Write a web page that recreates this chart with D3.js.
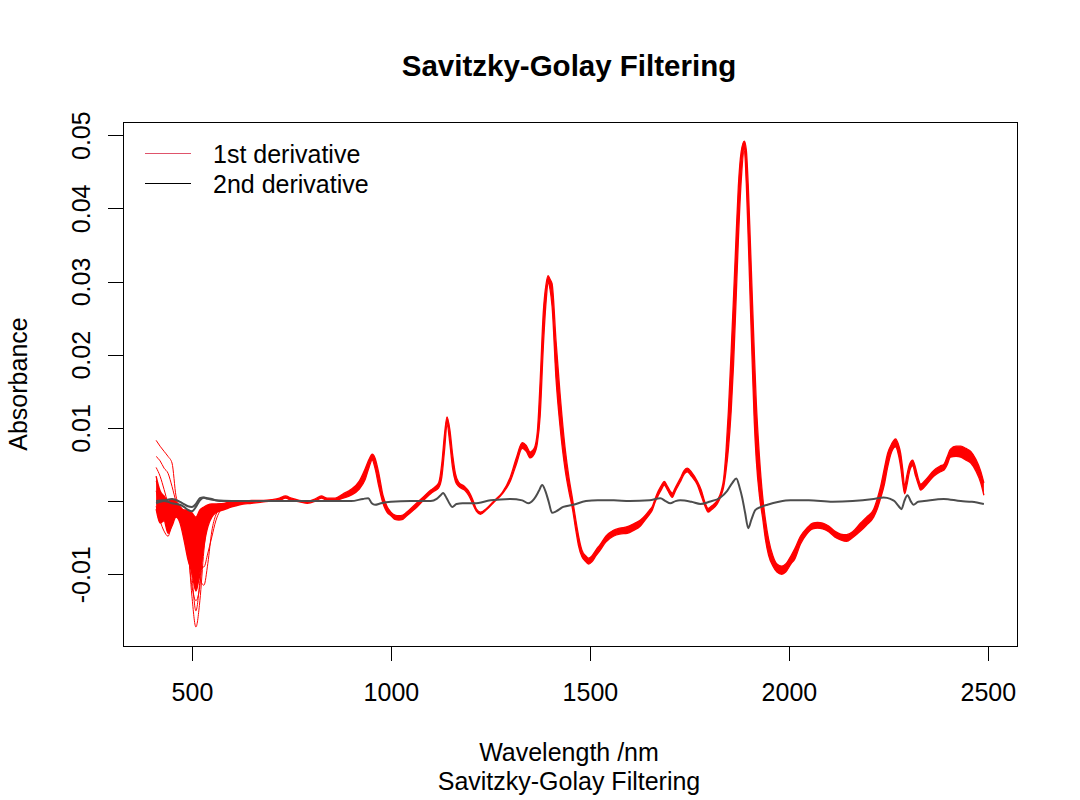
<!DOCTYPE html>
<html>
<head>
<meta charset="utf-8">
<script src="https://cdn.jsdelivr.net/npm/d3@7"></script>
<style>
  body { margin: 0; background: #fff; }
  text { font-family: "Liberation Sans", Arial, sans-serif; }
</style>
</head>
<body>
<div id="chart"></div>
<script>
// wavelengths for the main red band (nm)
const wl = [
  410,420,430,440,450,460,470,480,490,500, 510,520,530,540,550,560,580,600,620,650,
  680,700,720,735,750,770,790,810,825,840,
  860,880,900,920,935,945,953,960,970,980,
  990,1000,1010,1020,1030,1040,1060,1080,1100,1110,
  1120,1128,1135,1141,1148,1155,1162,1170,1185,1195,
  1205,1215,1225,1240,1260,1280,1300,1315,1330,1340,
  1350,1360,1368,1375,1383,1390,1395,1400,1405,1415,
  1425,1438,1448,1456,1465,1471,1480,1490,1497,1505,
  1515,1526,1540,1559,1575,1594,1610,1627,1640,1650,
  1657,1665,1672,1680,1687,1695,1707,1715,1727,1737,
  1745,1755,1770,1780,1790,1797,1805,1820,1830,1836,
  1842,1848,1855,1861,1867,1873,1880,1888,1893,1898,
  1903,1908,1913,1918,1926,1934,1941,1949,1960,1970,
  1982,1992,2005,2015,2029,2045,2060,2072,2085,2100,
  2115,2130,2145,2160,2180,2195,2213,2222,2230,2240,
  2248,2258,2268,2275,2281,2286,2291,2296,2303,2311,
  2318,2325,2331,2345,2364,2380,2389,2398,2406,2420,
  2432,2445,2457,2470,2482,2490
];

// upper edge of the red bundle of spectra
const redUpper = [
  0.0034,0.0014,0.0007,0,0.0003,-0.0001,-0.0008,-0.0012,-0.0012,-0.0016, -0.0022,-0.0012,-0.0008,-0.0005,-0.0004,-0.0004,-0.0003,-0.0001,-0.0001,0.0001,
  0.0001,0.0002,0.0004,0.0007,0.0004,0.0001,0,0.0003,0.0007,0.0004,
  0.0004,0.0010,0.0016,0.0027,0.0044,0.0057,0.0064,0.0059,0.0037,0.0008,
  -0.0007,-0.0015,-0.0019,-0.0020,-0.0019,-0.0015,-0.0005,0.0005,0.0015,0.0019,
  0.0025,0.0052,0.0093,0.0115,0.0098,0.0064,0.0038,0.0026,0.0020,0.0014,
  0.0003,-0.0011,-0.0015,-0.0010,0.0001,0.0012,0.0033,0.0059,0.0080,0.0076,
  0.0067,0.0072,0.0095,0.0164,0.0259,0.0297,0.0308,0.0303,0.0297,0.0218,
  0.0147,0.0071,0.0030,0.0004,-0.0027,-0.0046,-0.0067,-0.0075,-0.0078,-0.0075,
  -0.0067,-0.0059,-0.0048,-0.0040,-0.0037,-0.0035,-0.0031,-0.0026,-0.0019,-0.0012,
  -0.0007,0.0005,0.0014,0.0022,0.0027,0.0020,0.0011,0.0019,0.0031,0.0042,
  0.0045,0.0040,0.0027,0.0015,-0.0003,-0.0010,-0.0007,0.0001,0.0014,0.0030,
  0.0068,0.0123,0.0205,0.0280,0.0357,0.0430,0.0477,0.0492,0.0480,0.0430,
  0.0357,0.0280,0.0205,0.0136,0.0061,0.0007,-0.0025,-0.0052,-0.0075,-0.0086,
  -0.0089,-0.0086,-0.0075,-0.0065,-0.0048,-0.0037,-0.0030,-0.0029,-0.0030,-0.0034,
  -0.0041,-0.0045,-0.0046,-0.0042,-0.0030,-0.0022,-0.0011,0.0003,0.0019,0.0045,
  0.0065,0.0078,0.0085,0.0078,0.0065,0.0044,0.0020,0.0034,0.0050,0.0056,
  0.0046,0.0031,0.0023,0.0030,0.0042,0.0048,0.0050,0.0061,0.0071,0.0075,
  0.0075,0.0072,0.0068,0.0057,0.0041,0.0025
];

// lower edge of the red bundle
const redLower = [
  -0.0011,-0.0030,-0.0027,-0.0044,-0.0034,-0.0022,-0.0030,-0.0053,-0.0080,-0.0098, -0.0123,-0.0098,-0.0061,-0.0035,-0.0022,-0.0016,-0.0012,-0.0008,-0.0005,-0.0003,
  -0.0001,0,0.0001,0.0004,0.0001,-0.0001,-0.0003,0,0.0004,0.0001,
  0.0001,0.0004,0.0008,0.0016,0.0029,0.0046,0.0056,0.0045,0.0019,-0.0003,
  -0.0015,-0.0020,-0.0025,-0.0026,-0.0025,-0.0020,-0.0011,0,0.0010,0.0014,
  0.0018,0.0033,0.0071,0.0105,0.0079,0.0045,0.0027,0.0020,0.0015,0.0008,
  -0.0003,-0.0014,-0.0018,-0.0012,-0.0001,0.0010,0.0027,0.0050,0.0072,0.0068,
  0.0059,0.0064,0.0079,0.0116,0.0211,0.0273,0.0299,0.0289,0.0266,0.0166,
  0.0102,0.0042,0.0011,-0.0010,-0.0041,-0.0060,-0.0076,-0.0083,-0.0086,-0.0083,
  -0.0075,-0.0067,-0.0056,-0.0048,-0.0045,-0.0044,-0.0040,-0.0034,-0.0025,-0.0018,
  -0.0012,0,0.0008,0.0016,0.0022,0.0015,0.0005,0.0014,0.0026,0.0037,
  0.0040,0.0034,0.0022,0.0007,-0.0008,-0.0015,-0.0012,-0.0004,0.0008,0.0019,
  0.0041,0.0071,0.0123,0.0187,0.0270,0.0356,0.0436,0.0480,0.0434,0.0356,
  0.0270,0.0187,0.0109,0.0057,0.0007,-0.0023,-0.0052,-0.0074,-0.0089,-0.0097,
  -0.0100,-0.0097,-0.0086,-0.0079,-0.0059,-0.0045,-0.0038,-0.0037,-0.0038,-0.0042,
  -0.0049,-0.0053,-0.0055,-0.0050,-0.0041,-0.0033,-0.0022,-0.0011,0.0003,0.0023,
  0.0046,0.0067,0.0074,0.0064,0.0046,0.0025,0.0010,0.0020,0.0040,0.0048,
  0.0035,0.0023,0.0015,0.0022,0.0034,0.0040,0.0042,0.0050,0.0060,0.0061,
  0.0060,0.0056,0.0052,0.0041,0.0025,0.0008
];

// the scattered single spectra below 600 nm
const earlyWl = [410,420,430,440,450,460,470,480,490,500,510,520,530,540,550,560,570,580,600];
const redEarly1 = [0.0083,0.0075,0.0068,0.0061,0.0052,0.0007,-0.0007,-0.0014,-0.0034,-0.0068,-0.0095,-0.0061,-0.0027,-0.0011,-0.0007,-0.0005,-0.0004,-0.0004,-0.0003];
const redEarly2 = [0.0061,0.0055,0.0045,0.0038,0.0020,0,-0.0008,-0.0019,-0.0048,-0.0102,-0.0150,-0.0109,-0.0048,-0.0016,-0.0008,-0.0005,-0.0004,-0.0004,-0.0003];
const redEarly3 = [0.0046,0.0034,0.0016,-0.0003,-0.0014,-0.0011,-0.0011,-0.0025,-0.0061,-0.0130,-0.0172,-0.0136,-0.0068,-0.0025,-0.0011,-0.0007,-0.0005,-0.0004,-0.0003];
const redEarly4 = [0.0027,0.0011,-0.0011,-0.0027,-0.0025,-0.0014,-0.0011,-0.0016,-0.0034,-0.0061,-0.0085,-0.0106,-0.0115,-0.0085,-0.0041,-0.0019,-0.0011,-0.0007,-0.0004];
const redEarly5 = [0.0014,-0.0007,-0.0020,-0.0034,-0.0027,-0.0016,-0.0014,-0.0020,-0.0041,-0.0057,-0.0075,-0.0090,-0.0090,-0.0071,-0.0049,-0.0027,-0.0014,-0.0008,-0.0004];
const redEarly6 = [-0.0007,-0.0027,-0.0041,-0.0048,-0.0030,-0.0016,-0.0011,-0.0027,-0.0068,-0.0116,-0.0136,-0.0116,-0.0055,-0.0020,-0.0011,-0.0007,-0.0005,-0.0004,-0.0003];
const grayEarly = [-0.0003,-0.0001,0,-0.0001,-0.0003,-0.0004,-0.0005,-0.0008,-0.0012,-0.0014,-0.0008,0.0001,0.0005,0.0004,0.0003,0.0001,0,0,0];

// grey spectra
const grayWl = [
  410,430,450,470,480,490,500,510,520,527,540,560,600,700,800,900,930,943,952,960,
  975,1000,1050,1100,1115,1125,1131,1140,1148,1154,1165,1180,1210,1250,1300,1330,1345,1360,1372,1380,
  1388,1396,1405,1415,1433,1458,1490,1520,1560,1600,1650,1677,1690,1702,1715,1727,1755,1778,1800,1828,
  1845,1858,1868,1876,1883,1890,1898,1906,1916,1930,1946,1975,2004,2050,2110,2160,2213,2238,2255,2265,
  2276,2283,2290,2298,2306,2313,2325,2340,2389,2432,2460,2490
];
const grayVals = [
  0,0.0001,0.0003,-0.0001,-0.0004,-0.0007,-0.0008,-0.0004,0.0004,0.0005,0.0003,0.0001,0,0,0,0,0.0003,0.0004,-0.0003,-0.0005,
  -0.0003,-0.0001,0,0,0.0003,0.0008,0.0011,0.0004,-0.0004,-0.0008,-0.0004,-0.0003,-0.0003,0.0001,0.0003,0.0001,-0.0003,0.0003,0.0014,0.0022,
  0.0014,0,-0.0016,-0.0014,-0.0008,-0.0005,0,0.0001,0.0001,0,0.0001,0.0004,0,-0.0003,0,0.0001,-0.0001,-0.0004,-0.0001,0.0005,
  0.0014,0.0025,0.0031,0.0019,0.0004,-0.0016,-0.0037,-0.0025,-0.0012,-0.0008,-0.0005,-0.0001,0.0001,0.0001,-0.0001,0,0.0003,0.0005,0.0003,0,
  -0.0007,-0.0011,0,0.0008,0,-0.0005,-0.0001,0,0.0003,0,-0.0001,-0.0004
];

const xTicks = [500, 1000, 1500, 2000, 2500];
const yTicks = [-0.01, 0, 0.01, 0.02, 0.03, 0.04, 0.05];
const legendLabels = ["1st derivative", "2nd derivative"];
const legendColors = ["#DF536B", "#000000"];

let width = 1080;
let height = 800;
let plotLeft = 123, plotRight = 1017, plotTop = 122, plotBottom = 646;
let fontSize = 25;

let svg = d3.select("#chart")
            .append("svg")
            .attr("width", width)
            .attr("height", height);

let x = d3.scaleLinear().domain([326.8, 2573.2]).range([plotLeft, plotRight]);
let y = d3.scaleLinear().domain([-0.0198, 0.0518]).range([plotBottom, plotTop]);

let band = wl.map((w, i) => ({w: w, hi: redUpper[i], lo: redLower[i]}));

let area = d3.area()
             .x(d => x(d.w))
             .y0(d => y(d.lo))
             .y1(d => y(d.hi))
             .curve(d3.curveMonotoneX);

let line = d3.line()
             .x(d => x(d[0]))
             .y(d => y(d[1]))
             .curve(d3.curveMonotoneX);

// red spectra
svg.append("path").attr("d", area(band)).attr("fill", "#ff0000");
[redUpper, redLower].forEach(s => {
    svg.append("path")
       .attr("d", line(wl.map((w, i) => [w, s[i]])))
       .attr("fill", "none").attr("stroke", "#ff0000").attr("stroke-width", 1.3);
});
[redEarly1, redEarly2, redEarly3, redEarly4, redEarly5, redEarly6].forEach(s => {
    svg.append("path")
       .attr("d", line(earlyWl.map((w, i) => [w, s[i]])))
       .attr("fill", "none").attr("stroke", "#ff0000").attr("stroke-width", 1);
});

// grey spectra on top
svg.append("path")
   .attr("d", line(earlyWl.map((w, i) => [w, grayEarly[i]])))
   .attr("fill", "none").attr("stroke", "#4d4d4d").attr("stroke-width", 2);
svg.append("path")
   .attr("d", line(grayWl.map((w, i) => [w, grayVals[i]])))
   .attr("fill", "none").attr("stroke", "#4d4d4d").attr("stroke-width", 2);

// box
svg.append("rect")
   .attr("x", plotLeft + 0.5).attr("y", plotTop + 0.5)
   .attr("width", plotRight - plotLeft).attr("height", plotBottom - plotTop)
   .attr("fill", "none").attr("stroke", "#000").attr("stroke-width", 1)
   .attr("shape-rendering", "crispEdges");

// axes
let xAxis = svg.append("g")
   .attr("transform", `translate(0,${plotBottom})`)
   .call(d3.axisBottom(x).tickValues(xTicks).tickSize(15).tickPadding(22).tickFormat(d3.format("d")));
xAxis.select(".domain").remove();
xAxis.selectAll("line").attr("shape-rendering", "crispEdges");
xAxis.selectAll("text").attr("font-size", fontSize).attr("fill", "#000")
     .style("font-family", "'Liberation Sans', Arial, sans-serif");

let yAxis = svg.append("g")
   .attr("transform", `translate(${plotLeft},0)`)
   .call(d3.axisLeft(y).tickValues(yTicks).tickSize(15)
          .tickFormat(d => d === 0 ? "" : String(+d.toFixed(2))));
yAxis.select(".domain").remove();
yAxis.selectAll("line").attr("shape-rendering", "crispEdges");
yAxis.selectAll("text")
     .attr("x", null).attr("dy", null)
     .attr("transform", "translate(-33,0) rotate(-90)")
     .attr("text-anchor", "middle")
     .attr("font-size", fontSize).attr("fill", "#000")
     .style("font-family", "'Liberation Sans', Arial, sans-serif");

// titles
svg.append("text").attr("x", 569).attr("y", 76).attr("text-anchor", "middle")
   .attr("font-size", 29.5).attr("font-weight", "bold").text("Savitzky-Golay Filtering");
svg.append("text").attr("x", 569).attr("y", 761).attr("text-anchor", "middle")
   .attr("font-size", fontSize).text("Wavelength /nm");
svg.append("text").attr("x", 569).attr("y", 790).attr("text-anchor", "middle")
   .attr("font-size", fontSize).text("Savitzky-Golay Filtering");
svg.append("text").attr("transform", "translate(27,384) rotate(-90)").attr("text-anchor", "middle")
   .attr("font-size", fontSize).text("Absorbance");

// legend
legendLabels.forEach((lab, i) => {
    let ly = 153.5 + i * 30;
    svg.append("line").attr("x1", 145).attr("x2", 191).attr("y1", ly).attr("y2", ly)
       .attr("stroke", legendColors[i]).attr("stroke-width", 1)
       .attr("shape-rendering", "crispEdges");
    svg.append("text").attr("x", 213).attr("y", ly + 9.5).attr("font-size", fontSize).text(lab);
});
</script>
</body>
</html>
